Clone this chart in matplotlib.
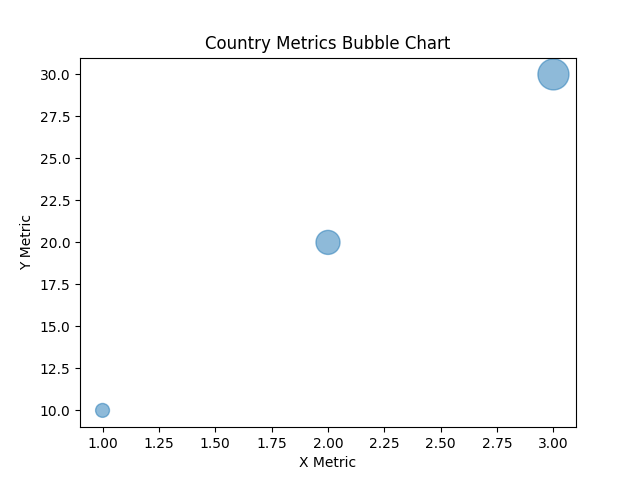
import matplotlib
matplotlib.use("Agg")
import matplotlib.pyplot as plt

# Bubble chart data
x_metric = [1, 2, 3]
y_metric = [10, 20, 30]
bubble_sizes = [100, 300, 500]

fig, ax = plt.subplots(figsize=(6.4, 4.8), dpi=100)

ax.scatter(x_metric, y_metric, s=bubble_sizes, alpha=0.5)

ax.set_title('Country Metrics Bubble Chart')
ax.set_xlabel('X Metric')
ax.set_ylabel('Y Metric')

plt.savefig('out.png', dpi=100)
plt.close(fig)
